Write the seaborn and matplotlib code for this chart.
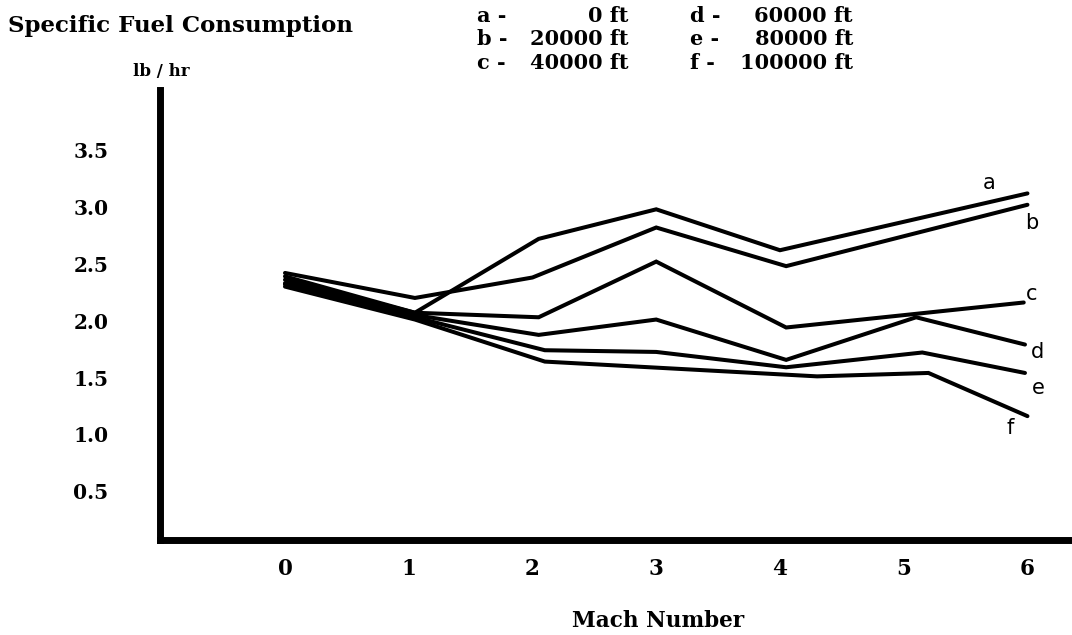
import matplotlib
matplotlib.use("Agg")
import matplotlib.pyplot as plt
import seaborn as sns
import pandas as pd

# ---- data ----
series_names = ["a", "b", "c", "d", "e", "f"]
altitudes = ["0 ft", "20000 ft", "40000 ft", "60000 ft", "80000 ft", "100000 ft"]

mach_a = [0, 1.05, 2.05, 3.0, 4.0, 6.0]
sfc_a = [2.39, 2.07, 2.72, 2.98, 2.62, 3.12]
mach_b = [0, 1.05, 2.0, 3.0, 4.05, 6.0]
sfc_b = [2.42, 2.20, 2.38, 2.82, 2.48, 3.02]
mach_c = [0, 1.05, 2.05, 3.0, 4.05, 5.97]
sfc_c = [2.36, 2.07, 2.03, 2.52, 1.94, 2.16]
mach_d = [0, 1.05, 2.05, 3.0, 4.05, 5.1, 5.98]
sfc_d = [2.33, 2.05, 1.875, 2.01, 1.655, 2.03, 1.79]
mach_e = [0, 1.05, 2.1, 3.0, 4.05, 5.15, 5.98]
sfc_e = [2.32, 2.03, 1.74, 1.725, 1.59, 1.72, 1.54]
mach_f = [0, 1.05, 2.1, 4.3, 5.2, 6.0]
sfc_f = [2.30, 2.01, 1.64, 1.51, 1.54, 1.16]

x_ticks = [0, 1, 2, 3, 4, 5, 6]
y_ticks = [0.5, 1.0, 1.5, 2.0, 2.5, 3.0, 3.5]
y_tick_labels = ["0.5", "1.0", "1.5", "2.0", "2.5", "3.0", "3.5"]

machs = [mach_a, mach_b, mach_c, mach_d, mach_e, mach_f]
sfcs = [sfc_a, sfc_b, sfc_c, sfc_d, sfc_e, sfc_f]

# ---- style ----
sns.set_theme(style="white")
plt.rcParams["font.family"] = ["DejaVu Serif", "DejaVu Sans"]
plt.rcParams["text.color"] = "black"
plt.rcParams["xtick.color"] = "black"
plt.rcParams["ytick.color"] = "black"
SERIF = "DejaVu Serif"

fig = plt.figure(figsize=(10.72, 6.35), dpi=100)
ax = fig.add_axes([160 / 1072, 95 / 635, 912 / 1072, 450 / 635])

for m, s in zip(machs, sfcs):
    sns.lineplot(x=m, y=s, ax=ax, color="black", linewidth=2.9,
                 sort=False, estimator=None, solid_joinstyle="miter")

# line end labels (offsets in pixels)
label_offsets = {"a": (-38, 10), "b": (4, -18), "c": (8, 8),
                 "d": (13, -7), "e": (13, -15), "f": (-17, -12)}
for name, m, s in zip(series_names, machs, sfcs):
    ax.annotate(name, xy=(m[-1], s[-1]), xytext=label_offsets[name],
                textcoords="offset pixels", ha="center", va="center",
                fontsize=15, family="DejaVu Sans", color="black")

ax.set_xlim(-1.01, 6.36)
ax.set_ylim(0.07, 4.03)
ax.set_xticks(x_ticks)
ax.set_xticklabels([str(t) for t in x_ticks], fontsize=15.5, fontweight="bold", family=SERIF)
ax.set_yticks(y_ticks)
ax.set_yticklabels(y_tick_labels, fontsize=14.5, fontweight="bold", family=SERIF)
ax.tick_params(axis="x", length=0, pad=13)
ax.tick_params(axis="y", length=0, pad=37)
ax.grid(False)

for side in ["top", "right"]:
    ax.spines[side].set_visible(False)
for side in ["left", "bottom"]:
    ax.spines[side].set_linewidth(5)
    ax.spines[side].set_color("black")
    ax.spines[side].set_capstyle("projecting")

ax.set_xlabel("")
ax.set_ylabel("")

# titles / texts
fig.text(8 / 1072, 1 - 26 / 635, "Specific Fuel Consumption", fontsize=16.5,
         fontweight="bold", family=SERIF, va="center", ha="left")
fig.text(161 / 1072, 1 - 71 / 635, "lb / hr", fontsize=12,
         fontweight="bold", family=SERIF, va="center", ha="center")
fig.text(658 / 1072, 1 - 621 / 635, "Mach Number", fontsize=15.5,
         fontweight="bold", family=SERIF, va="center", ha="center")

# altitude key
rows_y = [16, 39, 63]
for i, (name, alt) in enumerate(zip(series_names, altitudes)):
    col = i // 3
    row = i % 3
    x_left = [477, 690][col]
    x_right = [628, 853][col]
    y = 1 - rows_y[row] / 635
    fig.text(x_left / 1072, y, f"{name} -", fontsize=15, fontweight="bold",
             family=SERIF, va="center", ha="left")
    fig.text(x_right / 1072, y, alt, fontsize=15, fontweight="bold",
             family=SERIF, va="center", ha="right")

fig.savefig("out.png", dpi=100)
